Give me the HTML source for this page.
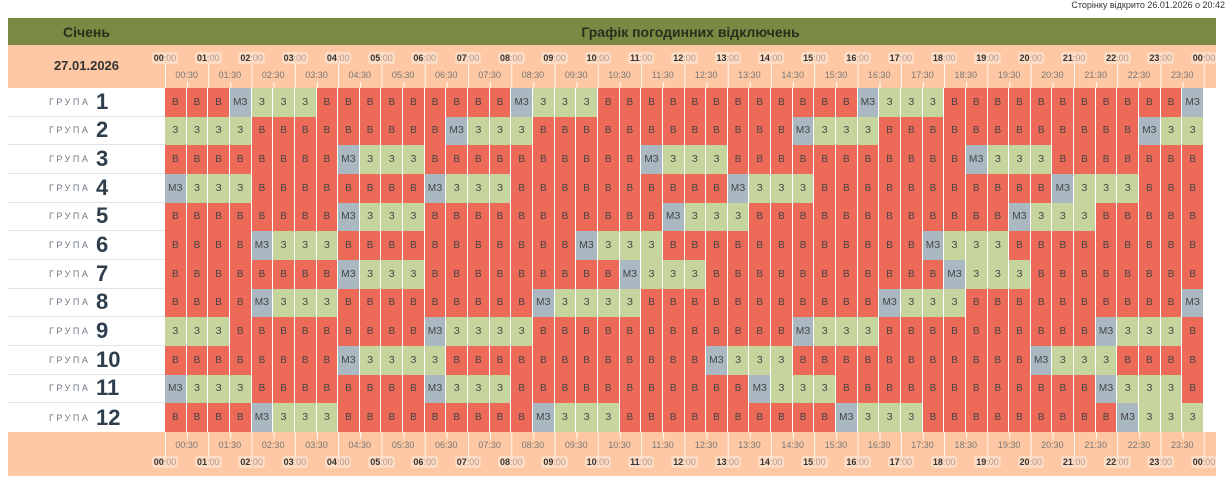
<!DOCTYPE html>
<html><head><meta charset="utf-8"><style>
*{margin:0;padding:0;box-sizing:border-box}
body{width:1229px;height:485px;background:#fff;font-family:"Liberation Sans",sans-serif;position:relative;overflow:hidden}
.top{position:absolute;right:4px;top:0;font-size:9px;color:#333}
.hdr{position:absolute;left:8px;top:18px;width:1208px;height:27px;background:#788a44;font-weight:bold;font-size:14px;color:#26301a}
.hdr .a{position:absolute;left:0;width:157px;text-align:center;top:6px}
.hdr .b{position:absolute;left:157px;right:0;text-align:center;top:6px}
.pe{position:absolute;left:8px;width:1208px;background:#fdc8a3}
.date{position:absolute;left:8px;top:58px;width:157px;text-align:center;font-weight:bold;font-size:13px;color:#333}
.lbl{position:absolute;left:8px;width:157px;height:28.67px;display:flex;align-items:center;padding-left:41px;border-bottom:1px solid #dde3e8;background:#fff}
.lbl s{text-decoration:none;font-size:9px;letter-spacing:2.5px;color:#6b7680;width:47px;display:inline-block}
.lbl b{font-size:22px;color:#2e3e4d}
.grid{position:absolute;left:165px;top:88px;width:1039px;height:344px;display:grid;grid-template-columns:repeat(48,1fr);grid-template-rows:repeat(12,1fr)}
.grid i{font-style:normal;font-size:10px;color:#444;display:flex;align-items:center;justify-content:center;border-right:1px solid #fff}
.B{background:#ee6a58}.Z{background:#c6d59d}.M{background:#a9b8c1}
.h,.hh{position:absolute;width:40px;text-align:center;font-size:9px}
.h span{background:rgba(255,255,255,.35);border-radius:3px;padding:1px 2px;color:#aa9a90}
.h b{color:#333}
.hh{color:#777}
</style></head><body>
<div class="top">Сторінку відкрито 26.01.2026 о 20:42</div>
<div class="hdr"><div class="a">Січень</div><div class="b">Графік погодинних відключень</div></div>
<div class="pe" style="top:45px;height:43px"></div>
<div class="pe" style="top:432px;height:44px"></div>
<div class="date">27.01.2026</div>
<div class="lbl" style="top:88px"><s>ГРУПА</s><b>1</b></div>
<div class="lbl" style="top:116.67px"><s>ГРУПА</s><b>2</b></div>
<div class="lbl" style="top:145.33px"><s>ГРУПА</s><b>3</b></div>
<div class="lbl" style="top:174px"><s>ГРУПА</s><b>4</b></div>
<div class="lbl" style="top:202.67px"><s>ГРУПА</s><b>5</b></div>
<div class="lbl" style="top:231.33px"><s>ГРУПА</s><b>6</b></div>
<div class="lbl" style="top:260px"><s>ГРУПА</s><b>7</b></div>
<div class="lbl" style="top:288.67px"><s>ГРУПА</s><b>8</b></div>
<div class="lbl" style="top:317.33px"><s>ГРУПА</s><b>9</b></div>
<div class="lbl" style="top:346px"><s>ГРУПА</s><b>10</b></div>
<div class="lbl" style="top:374.67px"><s>ГРУПА</s><b>11</b></div>
<div class="lbl" style="top:403.33px;border-bottom:none"><s>ГРУПА</s><b>12</b></div>
<div class="grid">
<i class=B>В</i><i class=B>В</i><i class=B>В</i><i class=M>МЗ</i><i class=Z>З</i><i class=Z>З</i><i class=Z>З</i><i class=B>В</i><i class=B>В</i><i class=B>В</i><i class=B>В</i><i class=B>В</i><i class=B>В</i><i class=B>В</i><i class=B>В</i><i class=B>В</i><i class=M>МЗ</i><i class=Z>З</i><i class=Z>З</i><i class=Z>З</i><i class=B>В</i><i class=B>В</i><i class=B>В</i><i class=B>В</i><i class=B>В</i><i class=B>В</i><i class=B>В</i><i class=B>В</i><i class=B>В</i><i class=B>В</i><i class=B>В</i><i class=B>В</i><i class=M>МЗ</i><i class=Z>З</i><i class=Z>З</i><i class=Z>З</i><i class=B>В</i><i class=B>В</i><i class=B>В</i><i class=B>В</i><i class=B>В</i><i class=B>В</i><i class=B>В</i><i class=B>В</i><i class=B>В</i><i class=B>В</i><i class=B>В</i><i class=M>МЗ</i>
<i class=Z>З</i><i class=Z>З</i><i class=Z>З</i><i class=Z>З</i><i class=B>В</i><i class=B>В</i><i class=B>В</i><i class=B>В</i><i class=B>В</i><i class=B>В</i><i class=B>В</i><i class=B>В</i><i class=B>В</i><i class=M>МЗ</i><i class=Z>З</i><i class=Z>З</i><i class=Z>З</i><i class=B>В</i><i class=B>В</i><i class=B>В</i><i class=B>В</i><i class=B>В</i><i class=B>В</i><i class=B>В</i><i class=B>В</i><i class=B>В</i><i class=B>В</i><i class=B>В</i><i class=B>В</i><i class=M>МЗ</i><i class=Z>З</i><i class=Z>З</i><i class=Z>З</i><i class=B>В</i><i class=B>В</i><i class=B>В</i><i class=B>В</i><i class=B>В</i><i class=B>В</i><i class=B>В</i><i class=B>В</i><i class=B>В</i><i class=B>В</i><i class=B>В</i><i class=B>В</i><i class=M>МЗ</i><i class=Z>З</i><i class=Z>З</i>
<i class=B>В</i><i class=B>В</i><i class=B>В</i><i class=B>В</i><i class=B>В</i><i class=B>В</i><i class=B>В</i><i class=B>В</i><i class=M>МЗ</i><i class=Z>З</i><i class=Z>З</i><i class=Z>З</i><i class=B>В</i><i class=B>В</i><i class=B>В</i><i class=B>В</i><i class=B>В</i><i class=B>В</i><i class=B>В</i><i class=B>В</i><i class=B>В</i><i class=B>В</i><i class=M>МЗ</i><i class=Z>З</i><i class=Z>З</i><i class=Z>З</i><i class=B>В</i><i class=B>В</i><i class=B>В</i><i class=B>В</i><i class=B>В</i><i class=B>В</i><i class=B>В</i><i class=B>В</i><i class=B>В</i><i class=B>В</i><i class=B>В</i><i class=M>МЗ</i><i class=Z>З</i><i class=Z>З</i><i class=Z>З</i><i class=B>В</i><i class=B>В</i><i class=B>В</i><i class=B>В</i><i class=B>В</i><i class=B>В</i><i class=B>В</i>
<i class=M>МЗ</i><i class=Z>З</i><i class=Z>З</i><i class=Z>З</i><i class=B>В</i><i class=B>В</i><i class=B>В</i><i class=B>В</i><i class=B>В</i><i class=B>В</i><i class=B>В</i><i class=B>В</i><i class=M>МЗ</i><i class=Z>З</i><i class=Z>З</i><i class=Z>З</i><i class=B>В</i><i class=B>В</i><i class=B>В</i><i class=B>В</i><i class=B>В</i><i class=B>В</i><i class=B>В</i><i class=B>В</i><i class=B>В</i><i class=B>В</i><i class=M>МЗ</i><i class=Z>З</i><i class=Z>З</i><i class=Z>З</i><i class=B>В</i><i class=B>В</i><i class=B>В</i><i class=B>В</i><i class=B>В</i><i class=B>В</i><i class=B>В</i><i class=B>В</i><i class=B>В</i><i class=B>В</i><i class=B>В</i><i class=M>МЗ</i><i class=Z>З</i><i class=Z>З</i><i class=Z>З</i><i class=B>В</i><i class=B>В</i><i class=B>В</i>
<i class=B>В</i><i class=B>В</i><i class=B>В</i><i class=B>В</i><i class=B>В</i><i class=B>В</i><i class=B>В</i><i class=B>В</i><i class=M>МЗ</i><i class=Z>З</i><i class=Z>З</i><i class=Z>З</i><i class=B>В</i><i class=B>В</i><i class=B>В</i><i class=B>В</i><i class=B>В</i><i class=B>В</i><i class=B>В</i><i class=B>В</i><i class=B>В</i><i class=B>В</i><i class=B>В</i><i class=M>МЗ</i><i class=Z>З</i><i class=Z>З</i><i class=Z>З</i><i class=B>В</i><i class=B>В</i><i class=B>В</i><i class=B>В</i><i class=B>В</i><i class=B>В</i><i class=B>В</i><i class=B>В</i><i class=B>В</i><i class=B>В</i><i class=B>В</i><i class=B>В</i><i class=M>МЗ</i><i class=Z>З</i><i class=Z>З</i><i class=Z>З</i><i class=B>В</i><i class=B>В</i><i class=B>В</i><i class=B>В</i><i class=B>В</i>
<i class=B>В</i><i class=B>В</i><i class=B>В</i><i class=B>В</i><i class=M>МЗ</i><i class=Z>З</i><i class=Z>З</i><i class=Z>З</i><i class=B>В</i><i class=B>В</i><i class=B>В</i><i class=B>В</i><i class=B>В</i><i class=B>В</i><i class=B>В</i><i class=B>В</i><i class=B>В</i><i class=B>В</i><i class=B>В</i><i class=M>МЗ</i><i class=Z>З</i><i class=Z>З</i><i class=Z>З</i><i class=B>В</i><i class=B>В</i><i class=B>В</i><i class=B>В</i><i class=B>В</i><i class=B>В</i><i class=B>В</i><i class=B>В</i><i class=B>В</i><i class=B>В</i><i class=B>В</i><i class=B>В</i><i class=M>МЗ</i><i class=Z>З</i><i class=Z>З</i><i class=Z>З</i><i class=B>В</i><i class=B>В</i><i class=B>В</i><i class=B>В</i><i class=B>В</i><i class=B>В</i><i class=B>В</i><i class=B>В</i><i class=B>В</i>
<i class=B>В</i><i class=B>В</i><i class=B>В</i><i class=B>В</i><i class=B>В</i><i class=B>В</i><i class=B>В</i><i class=B>В</i><i class=M>МЗ</i><i class=Z>З</i><i class=Z>З</i><i class=Z>З</i><i class=B>В</i><i class=B>В</i><i class=B>В</i><i class=B>В</i><i class=B>В</i><i class=B>В</i><i class=B>В</i><i class=B>В</i><i class=B>В</i><i class=M>МЗ</i><i class=Z>З</i><i class=Z>З</i><i class=Z>З</i><i class=B>В</i><i class=B>В</i><i class=B>В</i><i class=B>В</i><i class=B>В</i><i class=B>В</i><i class=B>В</i><i class=B>В</i><i class=B>В</i><i class=B>В</i><i class=B>В</i><i class=M>МЗ</i><i class=Z>З</i><i class=Z>З</i><i class=Z>З</i><i class=B>В</i><i class=B>В</i><i class=B>В</i><i class=B>В</i><i class=B>В</i><i class=B>В</i><i class=B>В</i><i class=B>В</i>
<i class=B>В</i><i class=B>В</i><i class=B>В</i><i class=B>В</i><i class=M>МЗ</i><i class=Z>З</i><i class=Z>З</i><i class=Z>З</i><i class=B>В</i><i class=B>В</i><i class=B>В</i><i class=B>В</i><i class=B>В</i><i class=B>В</i><i class=B>В</i><i class=B>В</i><i class=B>В</i><i class=M>МЗ</i><i class=Z>З</i><i class=Z>З</i><i class=Z>З</i><i class=Z>З</i><i class=B>В</i><i class=B>В</i><i class=B>В</i><i class=B>В</i><i class=B>В</i><i class=B>В</i><i class=B>В</i><i class=B>В</i><i class=B>В</i><i class=B>В</i><i class=B>В</i><i class=M>МЗ</i><i class=Z>З</i><i class=Z>З</i><i class=Z>З</i><i class=B>В</i><i class=B>В</i><i class=B>В</i><i class=B>В</i><i class=B>В</i><i class=B>В</i><i class=B>В</i><i class=B>В</i><i class=B>В</i><i class=B>В</i><i class=M>МЗ</i>
<i class=Z>З</i><i class=Z>З</i><i class=Z>З</i><i class=B>В</i><i class=B>В</i><i class=B>В</i><i class=B>В</i><i class=B>В</i><i class=B>В</i><i class=B>В</i><i class=B>В</i><i class=B>В</i><i class=M>МЗ</i><i class=Z>З</i><i class=Z>З</i><i class=Z>З</i><i class=Z>З</i><i class=B>В</i><i class=B>В</i><i class=B>В</i><i class=B>В</i><i class=B>В</i><i class=B>В</i><i class=B>В</i><i class=B>В</i><i class=B>В</i><i class=B>В</i><i class=B>В</i><i class=B>В</i><i class=M>МЗ</i><i class=Z>З</i><i class=Z>З</i><i class=Z>З</i><i class=B>В</i><i class=B>В</i><i class=B>В</i><i class=B>В</i><i class=B>В</i><i class=B>В</i><i class=B>В</i><i class=B>В</i><i class=B>В</i><i class=B>В</i><i class=M>МЗ</i><i class=Z>З</i><i class=Z>З</i><i class=Z>З</i><i class=B>В</i>
<i class=B>В</i><i class=B>В</i><i class=B>В</i><i class=B>В</i><i class=B>В</i><i class=B>В</i><i class=B>В</i><i class=B>В</i><i class=M>МЗ</i><i class=Z>З</i><i class=Z>З</i><i class=Z>З</i><i class=Z>З</i><i class=B>В</i><i class=B>В</i><i class=B>В</i><i class=B>В</i><i class=B>В</i><i class=B>В</i><i class=B>В</i><i class=B>В</i><i class=B>В</i><i class=B>В</i><i class=B>В</i><i class=B>В</i><i class=M>МЗ</i><i class=Z>З</i><i class=Z>З</i><i class=Z>З</i><i class=B>В</i><i class=B>В</i><i class=B>В</i><i class=B>В</i><i class=B>В</i><i class=B>В</i><i class=B>В</i><i class=B>В</i><i class=B>В</i><i class=B>В</i><i class=B>В</i><i class=M>МЗ</i><i class=Z>З</i><i class=Z>З</i><i class=Z>З</i><i class=B>В</i><i class=B>В</i><i class=B>В</i><i class=B>В</i>
<i class=M>МЗ</i><i class=Z>З</i><i class=Z>З</i><i class=Z>З</i><i class=B>В</i><i class=B>В</i><i class=B>В</i><i class=B>В</i><i class=B>В</i><i class=B>В</i><i class=B>В</i><i class=B>В</i><i class=M>МЗ</i><i class=Z>З</i><i class=Z>З</i><i class=Z>З</i><i class=B>В</i><i class=B>В</i><i class=B>В</i><i class=B>В</i><i class=B>В</i><i class=B>В</i><i class=B>В</i><i class=B>В</i><i class=B>В</i><i class=B>В</i><i class=B>В</i><i class=M>МЗ</i><i class=Z>З</i><i class=Z>З</i><i class=Z>З</i><i class=B>В</i><i class=B>В</i><i class=B>В</i><i class=B>В</i><i class=B>В</i><i class=B>В</i><i class=B>В</i><i class=B>В</i><i class=B>В</i><i class=B>В</i><i class=B>В</i><i class=B>В</i><i class=M>МЗ</i><i class=Z>З</i><i class=Z>З</i><i class=Z>З</i><i class=B>В</i>
<i class=B>В</i><i class=B>В</i><i class=B>В</i><i class=B>В</i><i class=M>МЗ</i><i class=Z>З</i><i class=Z>З</i><i class=Z>З</i><i class=B>В</i><i class=B>В</i><i class=B>В</i><i class=B>В</i><i class=B>В</i><i class=B>В</i><i class=B>В</i><i class=B>В</i><i class=B>В</i><i class=M>МЗ</i><i class=Z>З</i><i class=Z>З</i><i class=Z>З</i><i class=B>В</i><i class=B>В</i><i class=B>В</i><i class=B>В</i><i class=B>В</i><i class=B>В</i><i class=B>В</i><i class=B>В</i><i class=B>В</i><i class=B>В</i><i class=M>МЗ</i><i class=Z>З</i><i class=Z>З</i><i class=Z>З</i><i class=B>В</i><i class=B>В</i><i class=B>В</i><i class=B>В</i><i class=B>В</i><i class=B>В</i><i class=B>В</i><i class=B>В</i><i class=B>В</i><i class=M>МЗ</i><i class=Z>З</i><i class=Z>З</i><i class=Z>З</i>
</div>
<div style="position:absolute;top:53px;left:0;width:1229px;height:12px">
<div class="h" style="left:145px"><span><b>00</b>:00</span></div><div class="h" style="left:188.3px"><span><b>01</b>:00</span></div><div class="h" style="left:231.6px"><span><b>02</b>:00</span></div><div class="h" style="left:274.9px"><span><b>03</b>:00</span></div><div class="h" style="left:318.2px"><span><b>04</b>:00</span></div><div class="h" style="left:361.5px"><span><b>05</b>:00</span></div><div class="h" style="left:404.7px"><span><b>06</b>:00</span></div><div class="h" style="left:448px"><span><b>07</b>:00</span></div><div class="h" style="left:491.3px"><span><b>08</b>:00</span></div><div class="h" style="left:534.6px"><span><b>09</b>:00</span></div><div class="h" style="left:577.9px"><span><b>10</b>:00</span></div><div class="h" style="left:621.2px"><span><b>11</b>:00</span></div><div class="h" style="left:664.5px"><span><b>12</b>:00</span></div><div class="h" style="left:707.8px"><span><b>13</b>:00</span></div><div class="h" style="left:751.1px"><span><b>14</b>:00</span></div><div class="h" style="left:794.4px"><span><b>15</b>:00</span></div><div class="h" style="left:837.6px"><span><b>16</b>:00</span></div><div class="h" style="left:880.9px"><span><b>17</b>:00</span></div><div class="h" style="left:924.2px"><span><b>18</b>:00</span></div><div class="h" style="left:967.5px"><span><b>19</b>:00</span></div><div class="h" style="left:1010.8px"><span><b>20</b>:00</span></div><div class="h" style="left:1054.1px"><span><b>21</b>:00</span></div><div class="h" style="left:1097.4px"><span><b>22</b>:00</span></div><div class="h" style="left:1140.7px"><span><b>23</b>:00</span></div><div class="h" style="left:1184px"><span><b>00</b>:00</span></div>
</div>
<div style="position:absolute;top:70px;left:0;width:1229px;height:12px">
<div class="hh" style="left:166.6px">00:30</div><div class="hh" style="left:209.9px">01:30</div><div class="hh" style="left:253.2px">02:30</div><div class="hh" style="left:296.5px">03:30</div><div class="hh" style="left:339.8px">04:30</div><div class="hh" style="left:383.1px">05:30</div><div class="hh" style="left:426.3px">06:30</div><div class="hh" style="left:469.6px">07:30</div><div class="hh" style="left:512.9px">08:30</div><div class="hh" style="left:556.2px">09:30</div><div class="hh" style="left:599.5px">10:30</div><div class="hh" style="left:642.8px">11:30</div><div class="hh" style="left:686.1px">12:30</div><div class="hh" style="left:729.4px">13:30</div><div class="hh" style="left:772.7px">14:30</div><div class="hh" style="left:816px">15:30</div><div class="hh" style="left:859.2px">16:30</div><div class="hh" style="left:902.5px">17:30</div><div class="hh" style="left:945.8px">18:30</div><div class="hh" style="left:989.1px">19:30</div><div class="hh" style="left:1032.4px">20:30</div><div class="hh" style="left:1075.7px">21:30</div><div class="hh" style="left:1119px">22:30</div><div class="hh" style="left:1162.3px">23:30</div>
</div>
<div style="position:absolute;top:440px;left:0;width:1229px;height:12px">
<div class="hh" style="left:166.6px">00:30</div><div class="hh" style="left:209.9px">01:30</div><div class="hh" style="left:253.2px">02:30</div><div class="hh" style="left:296.5px">03:30</div><div class="hh" style="left:339.8px">04:30</div><div class="hh" style="left:383.1px">05:30</div><div class="hh" style="left:426.3px">06:30</div><div class="hh" style="left:469.6px">07:30</div><div class="hh" style="left:512.9px">08:30</div><div class="hh" style="left:556.2px">09:30</div><div class="hh" style="left:599.5px">10:30</div><div class="hh" style="left:642.8px">11:30</div><div class="hh" style="left:686.1px">12:30</div><div class="hh" style="left:729.4px">13:30</div><div class="hh" style="left:772.7px">14:30</div><div class="hh" style="left:816px">15:30</div><div class="hh" style="left:859.2px">16:30</div><div class="hh" style="left:902.5px">17:30</div><div class="hh" style="left:945.8px">18:30</div><div class="hh" style="left:989.1px">19:30</div><div class="hh" style="left:1032.4px">20:30</div><div class="hh" style="left:1075.7px">21:30</div><div class="hh" style="left:1119px">22:30</div><div class="hh" style="left:1162.3px">23:30</div>
</div>
<div style="position:absolute;top:457px;left:0;width:1229px;height:12px">
<div class="h" style="left:145px"><span><b>00</b>:00</span></div><div class="h" style="left:188.3px"><span><b>01</b>:00</span></div><div class="h" style="left:231.6px"><span><b>02</b>:00</span></div><div class="h" style="left:274.9px"><span><b>03</b>:00</span></div><div class="h" style="left:318.2px"><span><b>04</b>:00</span></div><div class="h" style="left:361.5px"><span><b>05</b>:00</span></div><div class="h" style="left:404.7px"><span><b>06</b>:00</span></div><div class="h" style="left:448px"><span><b>07</b>:00</span></div><div class="h" style="left:491.3px"><span><b>08</b>:00</span></div><div class="h" style="left:534.6px"><span><b>09</b>:00</span></div><div class="h" style="left:577.9px"><span><b>10</b>:00</span></div><div class="h" style="left:621.2px"><span><b>11</b>:00</span></div><div class="h" style="left:664.5px"><span><b>12</b>:00</span></div><div class="h" style="left:707.8px"><span><b>13</b>:00</span></div><div class="h" style="left:751.1px"><span><b>14</b>:00</span></div><div class="h" style="left:794.4px"><span><b>15</b>:00</span></div><div class="h" style="left:837.6px"><span><b>16</b>:00</span></div><div class="h" style="left:880.9px"><span><b>17</b>:00</span></div><div class="h" style="left:924.2px"><span><b>18</b>:00</span></div><div class="h" style="left:967.5px"><span><b>19</b>:00</span></div><div class="h" style="left:1010.8px"><span><b>20</b>:00</span></div><div class="h" style="left:1054.1px"><span><b>21</b>:00</span></div><div class="h" style="left:1097.4px"><span><b>22</b>:00</span></div><div class="h" style="left:1140.7px"><span><b>23</b>:00</span></div><div class="h" style="left:1184px"><span><b>00</b>:00</span></div>
</div>
<div style="position:absolute;left:165px;top:64px;width:1040px;height:24px;background-image:linear-gradient(90deg,#fff 1px,transparent 1px);background-size:43.29px 100%;opacity:.9"></div>
<div style="position:absolute;left:186.6px;top:82px;width:1000px;height:6px;background-image:linear-gradient(90deg,#fff 1px,transparent 1px);background-size:43.29px 100%"></div>
<div style="position:absolute;left:165px;top:432px;width:1040px;height:25px;background-image:linear-gradient(90deg,#fff 1px,transparent 1px);background-size:43.29px 100%;opacity:.9"></div>
<div style="position:absolute;left:186.6px;top:432px;width:1000px;height:7px;background-image:linear-gradient(90deg,#fff 1px,transparent 1px);background-size:43.29px 100%"></div>
</body></html>
